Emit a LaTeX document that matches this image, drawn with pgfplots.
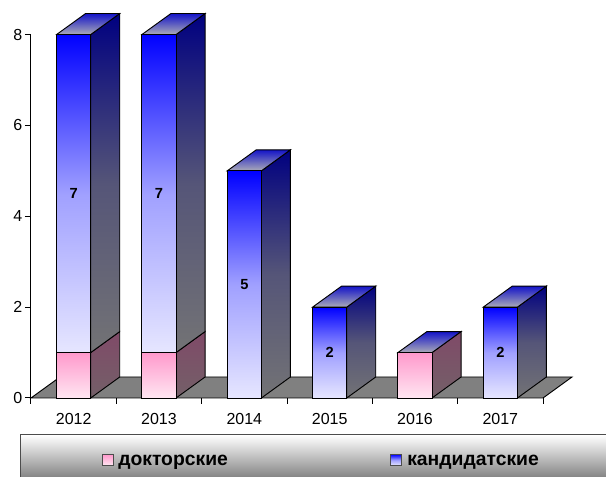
\documentclass[border=0pt]{standalone}
\usepackage{pgfplots}
\pgfplotsset{compat=1.18}
\usepackage{fontspec}
\setmainfont{Liberation Sans}
\definecolor{kt}{HTML}{0000FF}
\definecolor{km}{HTML}{A0A0FF}
\definecolor{kb}{HTML}{E6E6FF}
\definecolor{dt}{HTML}{FF99CC}
\definecolor{db}{HTML}{FFE6F2}
\definecolor{skt}{HTML}{000080}
\definecolor{skm}{HTML}{555578}
\definecolor{skb}{HTML}{737375}
\definecolor{sdt}{HTML}{804A68}
\definecolor{sdb}{HTML}{736068}
\definecolor{tt}{HTML}{1414C8}
\definecolor{tb}{HTML}{ABABB8}
\pgfplotsset{
 sidek/.style={stack plots=false,sharp plot,no markers,draw=black,line width=0.7pt,top color=skt,bottom color=skb,middle color=skm},
 sided/.style={stack plots=false,sharp plot,no markers,draw=black,line width=0.7pt,top color=sdt,bottom color=sdb},
 topf/.style={stack plots=false,sharp plot,no markers,draw=black,line width=0.7pt,top color=tt,bottom color=tb},
 kbar/.style={draw=black,line width=0.7pt,top color=kt,bottom color=kb,middle color=km,point meta=explicit symbolic,nodes near coords,
   every node near coord/.append style={font=\fontsize{11pt}{12pt}\selectfont\bfseries,text=black}},
 dbar/.style={draw=black,line width=0.7pt,top color=dt,bottom color=db},
}
\begin{document}
\begin{tikzpicture}[x=0.75pt,y=0.75pt]
\useasboundingbox (0,0) rectangle (606,477);
\begin{axis}[
 at={(23.25pt,59.25pt)},anchor=south west,scale only axis,width=384pt,height=272.6pt,
 xmin=0,xmax=6,ymin=0,ymax=8,clip=false,
 ybar stacked,bar width=0.4,reverse stacked plots=false,
 axis x line=bottom,axis y line=left,axis line style={-,line width=0.75pt},
 xtick={0.5,1.5,2.5,3.5,4.5,5.5},xticklabels={2012,2013,2014,2015,2016,2017},
 minor xtick={0,1,2,3,4,5,6},
 ytick={0,2,4,6,8},
 tick align=outside,major tick length=4.5pt,minor tick length=4.5pt,
 xtick style={draw=none},
 minor x tick style={draw=black,line width=0.75pt},
 y tick style={draw=black,line width=0.75pt},
 tick label style={font=\fontsize{12pt}{13pt}\selectfont,/pgf/number format/assume math mode=true},
 /pgf/number format/1000 sep={},
 xticklabel style={yshift=-3.5pt},
 yticklabel style={xshift=1.5pt},
]
% floor
\addplot[stack plots=false,sharp plot,no markers,draw=black,line width=0.7pt,fill=black!50] coordinates {(0,0)(6,0)(6.34,0.4625)(0.34,0.4625)} -- cycle;
% 2012
\addplot[sided] coordinates {(0.7,0)(1.04,0.4625)(1.04,1.4625)(0.7,1)} -- cycle;
\addplot[sidek] coordinates {(0.7,1)(1.04,1.4625)(1.04,8.4625)(0.7,8)} -- cycle;
\addplot[topf] coordinates {(0.3,8)(0.7,8)(1.04,8.4625)(0.64,8.4625)} -- cycle;
% 2013
\addplot[sided] coordinates {(1.7,0)(2.04,0.4625)(2.04,1.4625)(1.7,1)} -- cycle;
\addplot[sidek] coordinates {(1.7,1)(2.04,1.4625)(2.04,8.4625)(1.7,8)} -- cycle;
\addplot[topf] coordinates {(1.3,8)(1.7,8)(2.04,8.4625)(1.64,8.4625)} -- cycle;
% 2014
\addplot[sidek] coordinates {(2.7,0)(3.04,0.4625)(3.04,5.4625)(2.7,5)} -- cycle;
\addplot[topf] coordinates {(2.3,5)(2.7,5)(3.04,5.4625)(2.64,5.4625)} -- cycle;
% 2015
\addplot[sidek] coordinates {(3.7,0)(4.04,0.4625)(4.04,2.4625)(3.7,2)} -- cycle;
\addplot[topf] coordinates {(3.3,2)(3.7,2)(4.04,2.4625)(3.64,2.4625)} -- cycle;
% 2016
\addplot[sided] coordinates {(4.7,0)(5.04,0.4625)(5.04,1.4625)(4.7,1)} -- cycle;
\addplot[topf] coordinates {(4.3,1)(4.7,1)(5.04,1.4625)(4.64,1.4625)} -- cycle;
% 2017
\addplot[sidek] coordinates {(5.7,0)(6.04,0.4625)(6.04,2.4625)(5.7,2)} -- cycle;
\addplot[topf] coordinates {(5.3,2)(5.7,2)(6.04,2.4625)(5.64,2.4625)} -- cycle;
% front faces: stacked pair for 2012-2013
\addplot[dbar] coordinates {(0.5,1)(1.5,1)};
\addplot[kbar] coordinates {(0.5,7)[7](1.5,7)[7]};
% single-series years
\addplot[kbar,stack plots=false] coordinates {(2.5,5)[5]};
\addplot[kbar,stack plots=false] coordinates {(3.5,2)[2](5.5,2)[2]};
\addplot[dbar,stack plots=false] coordinates {(4.5,1)};
\end{axis}
% legend band
\shade[top color=white,bottom color=black!50,draw=black!70,line width=0.75pt] (20,-2) -- (20,42) -- (612,42) -- (612,-2) -- cycle;
\draw[draw=black!70,line width=0.7pt,top color=dt,bottom color=db] (102,11.5) rectangle (113,22.5);
\draw[draw=black!70,line width=0.7pt,top color=kt,bottom color=kb,middle color=km] (390,11.5) rectangle (401,22.5);
\node[anchor=west,inner sep=0pt,font=\fontsize{14.5pt}{16pt}\selectfont\bfseries] at (118,15) {докторские};
\node[anchor=west,inner sep=0pt,font=\fontsize{14.5pt}{16pt}\selectfont\bfseries] at (407,15) {кандидатские};
\end{tikzpicture}
\end{document}
